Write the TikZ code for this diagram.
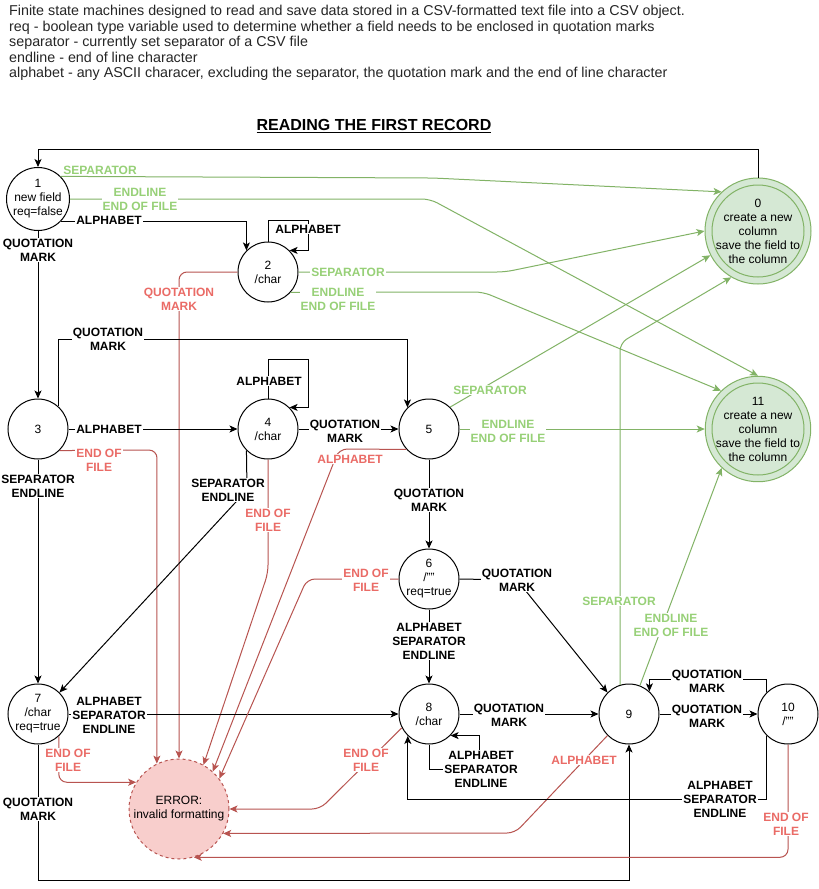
\documentclass[tikz,border=0pt]{standalone}
\usepackage{fontspec}
\setmainfont{Liberation Sans}
\usetikzlibrary{arrows.meta}
\definecolor{gstroke}{HTML}{82B366}
\definecolor{gfill}{HTML}{D5E8D4}
\definecolor{gtext}{HTML}{97D077}
\definecolor{rstroke}{HTML}{B85450}
\definecolor{rfill}{HTML}{F8CECC}
\definecolor{rtext}{HTML}{EA6B66}
\begin{document}
\begin{tikzpicture}[x=1pt,y=-1pt,
 state/.style={circle,draw=black,line width=1pt,minimum size=60pt,inner sep=0pt,align=center,font=\fontsize{12}{14}\selectfont,fill=white},
 final/.style={circle,draw=gstroke,fill=gfill,line width=1pt,minimum size=100pt,inner sep=0pt,align=center,font=\fontsize{12}{14}\selectfont},
 errst/.style={circle,draw=rstroke,fill=rfill,dash pattern=on 3pt off 3pt,line width=1pt,minimum size=100pt,inner sep=0pt,align=center,font=\fontsize{12}{14}\selectfont},
 conn/.style={line width=1pt,-{Stealth[length=8pt,width=7pt,inset=2pt]}},
 bl/.style={conn,draw=black},
 gl/.style={conn,draw=gstroke,rounded corners=8pt},
 rl/.style={conn,draw=rstroke,rounded corners=8pt},
 lbl/.style={fill=white,inner sep=1pt,align=center,font=\bfseries\fontsize{12}{14}\selectfont,text=black},
 glbl/.style={lbl,text=gtext},
 rlbl/.style={lbl,text=rtext}]
\fill[white] (0,0) rectangle (819,889);
\useasboundingbox (0,0) rectangle (819,889);

\node[anchor=north west,align=left,inner sep=0pt,font=\fontsize{14.3}{15.5}\selectfont,text=black!85] (hdr) at (9,5) {Finite state machines designed to read and save data stored in a CSV-formatted text file into a CSV object.\\req - boolean type variable used to determine whether a field needs to be enclosed in quotation marks\\separator - currently set separator of a CSV file\\endline - end of line character\\alphabet - any ASCII characer, excluding the separator, the quotation mark and the end of line character};
\node[font=\bfseries\fontsize{16}{18}\selectfont] (title) at (374,126) {\underline{READING THE FIRST RECORD}};

% states
\node[state] (n1) at (38,199) {1\\new field\\req=false};
\node[state] (n2) at (268,272) {2\\/char};
\node[final] (n0) at (758,231) {0\\create a new\\column\\save the field to\\the column};
\draw[draw=gstroke,line width=1pt] (n0.center) circle[radius=46pt];
\node[state] (n3) at (38,429) {3};
\node[state] (n4) at (268,429) {4\\/char};
\node[state] (n5) at (429,429) {5};
\node[final] (n11) at (758,429) {11\\create a new\\column\\save the field to\\the column};
\draw[draw=gstroke,line width=1pt] (n11.center) circle[radius=46pt];
\node[state] (n6) at (429,579) {6\\/""\\req=true};
\node[state] (n7) at (38,714) {7\\/char\\req=true};
\node[state] (n8) at (429,714) {8\\/char};
\node[state] (n9) at (629,714) {9};
\node[state] (n10) at (788,714) {10\\/""};
\node[errst] (err) at (179,809) {ERROR:\\invalid formatting};

% connectors
\draw[bl] (n0.north) -- (n0.north |- 0,149) -| (n1.north);
\draw[gl] (n1.45) -- (433,178) -- (n0.133);
\draw[gl] (n1.east) -- (430,199) -- (n11.north);
\draw[bl] (n1.-45) -| (n2.135);
\draw[bl] (n2.north) |- (308,220) |- (n2.45);
\draw[gl] (n2.east) -- (505,272) -- (n0.west);
\draw[gl] (n2.-42) -- (483,292) -- (n11.134);
\draw[rl] (n2.west) -| (err.north);
\draw[bl] (n1.south) -- (n3.north);
\draw[bl] (n3.49) |- (n5.135 |- 0,339) -- (n5.135);
\draw[bl] (n3.east) -- (n4.west);
\draw[bl] (n4.north) |- (308,359) |- (n4.45);
\draw[bl] (n4.east) -- (n5.west);
\draw[rl] (n5.222) -- (339,449) -- (err.48);
\draw[rl] (n4.south) -- (268,573) -- (err.61);
\draw[rl] (n3.-45) -- (157,450) -- (err.116);
\draw[bl] (n3.south) -- (n7.north);
\draw[bl] (n4.225) -- (247,490) -- (n7.45);
\draw[bl] (n7.east) -- (n8.west);
\draw[rl] (n7.-47) |- (err.148);
\draw[bl] (n7.south) -- (38,880) -| (n9.south);
\draw[gl] (n5.46) -- (n0.207);
\draw[gl] (n5.east) -- (n11.west);
\draw[bl] (n5.south) -- (n6.north);
\draw[rl] (n6.west) -- (307,579) -- (err.37);
\draw[bl] (n6.east) -- (517,580) -- (n9.135);
\draw[bl] (n6.south) -- (n8.north);
\draw[bl] (n8.south) |- (479,769) |- (n8.-45);
\draw[bl] (n8.east) -- (n9.west);
\draw[rl] (n8.207) -- (320,809) -- (err.east);
\draw[rl] (n9.225) -- (515,833) -- (err.-29);
\draw[rl] (n10.south) |- (err.-73);
\draw[gl] (n9.107) -- (620,343) -- (n0.240);
\draw[gl] (n9.69) -- (n11.227);
\draw[bl] (n9.east) -- (n10.west);
\draw[bl] (n10.135) |- (n9.48 |- 0,679) -- (n9.48);
\draw[bl] (n10.225) |- (n8.226 |- 0,799) -- (n8.226);

% labels
\node[glbl] (lA) at (100,170) {SEPARATOR};
\node[glbl] (lB) at (140,199) {ENDLINE\\END OF FILE};
\node[lbl] (lC) at (109,220) {ALPHABET};
\node[lbl] (lD) at (308,229) {ALPHABET};
\node[glbl] (lE) at (348,272) {SEPARATOR};
\node[glbl] (lF) at (338,299) {ENDLINE\\END OF FILE};
\node[rlbl] (lG) at (179,299) {QUOTATION\\MARK};
\node[lbl] (lH) at (38,250) {QUOTATION\\MARK};
\node[lbl] (lI) at (108,339) {QUOTATION\\MARK};
\node[lbl] (lJ) at (109,429) {ALPHABET};
\node[lbl] (lK) at (269,381) {ALPHABET};
\node[lbl] (lL) at (345,431) {QUOTATION\\MARK};
\node[rlbl] (lM) at (350,459) {ALPHABET};
\node[rlbl] (lN) at (268,520) {END OF\\FILE};
\node[rlbl] (lO) at (99,460) {END OF\\FILE};
\node[lbl] (lP) at (38,486) {SEPARATOR\\ENDLINE};
\node[lbl] (lQ) at (228,490) {SEPARATOR\\ENDLINE};
\node[lbl] (lR) at (109,715) {ALPHABET\\SEPARATOR\\ENDLINE};
\node[rlbl] (lS) at (68,760) {END OF\\FILE};
\node[lbl] (lT) at (38,809) {QUOTATION\\MARK};
\node[glbl] (lU) at (490,390) {SEPARATOR};
\node[glbl] (lV) at (508,431) {ENDLINE\\END OF FILE};
\node[lbl] (lW) at (429,500) {QUOTATION\\MARK};
\node[rlbl] (lX) at (366,580) {END OF\\FILE};
\node[lbl] (lY) at (517,580) {QUOTATION\\MARK};
\node[lbl] (lZ) at (429,641) {ALPHABET\\SEPARATOR\\ENDLINE};
\node[lbl] (la) at (481,769) {ALPHABET\\SEPARATOR\\ENDLINE};
\node[lbl] (lb) at (509,715) {QUOTATION\\MARK};
\node[rlbl] (lc) at (584,760) {ALPHABET};
\node[rlbl] (ld) at (786,824) {END OF\\FILE};
\node[glbl] (le) at (619,601) {SEPARATOR};
\node[glbl] (lf) at (671,625) {ENDLINE\\END OF FILE};
\node[lbl] (lg) at (707,716) {QUOTATION\\MARK};
\node[lbl] (lh) at (707,681) {QUOTATION\\MARK};
\node[lbl] (li) at (720,799) {ALPHABET\\SEPARATOR\\ENDLINE};
\node[rlbl] (lj) at (366,760) {END OF\\FILE};
\end{tikzpicture}
\end{document}
